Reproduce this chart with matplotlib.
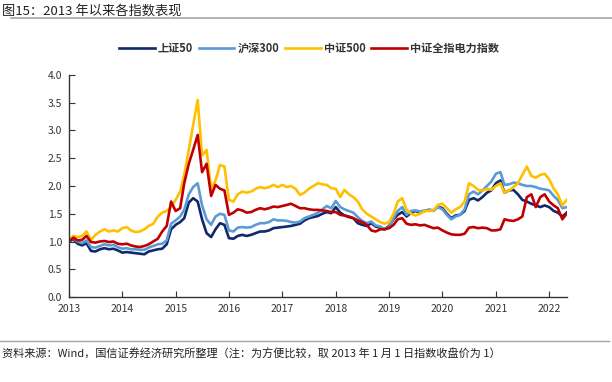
import matplotlib
matplotlib.use("Agg")
import matplotlib.pyplot as plt
import matplotlib.dates as mdates
import pandas as pd

plt.rcParams['font.family'] = ['Noto Sans CJK SC', 'DejaVu Sans']

# monthly samples, 2013-01 .. 2022-05 (start of month)
dates = pd.date_range("2013-01-01", "2022-05-01", freq="MS")

sz50 = [
    1.00, 1.04, 0.96, 0.93, 0.97, 0.83, 0.82, 0.86, 0.88, 0.86, 0.87, 0.84,
    0.80, 0.81, 0.80, 0.79, 0.78, 0.77, 0.82, 0.84, 0.86, 0.87, 0.95, 1.22,
    1.30, 1.35, 1.42, 1.70, 1.78, 1.72, 1.40, 1.15, 1.08, 1.22, 1.33, 1.30,
    1.06, 1.05, 1.10, 1.12, 1.10, 1.12, 1.15, 1.18, 1.18, 1.20, 1.24, 1.25,
    1.26, 1.27, 1.28, 1.30, 1.32, 1.38, 1.42, 1.44, 1.46, 1.50, 1.53, 1.51,
    1.62, 1.52, 1.47, 1.44, 1.42, 1.33, 1.30, 1.28, 1.33, 1.27, 1.25, 1.22,
    1.28, 1.40, 1.48, 1.53, 1.45, 1.52, 1.55, 1.52, 1.55, 1.57, 1.56, 1.63,
    1.60, 1.50, 1.42, 1.47, 1.48, 1.55, 1.75, 1.78, 1.74, 1.80, 1.88, 1.92,
    2.05, 2.10, 1.88, 1.92, 1.93, 1.85, 1.75, 1.72, 1.68, 1.65, 1.62, 1.65,
    1.62, 1.55, 1.52, 1.45, 1.52,
]
hs300 = [
    1.00, 1.06, 1.00, 0.97, 1.02, 0.90, 0.89, 0.92, 0.95, 0.93, 0.94, 0.90,
    0.87, 0.88, 0.86, 0.86, 0.85, 0.85, 0.89, 0.92, 0.95, 0.96, 1.02, 1.32,
    1.38, 1.45, 1.57, 1.85, 1.98, 2.05, 1.65, 1.40, 1.30, 1.45, 1.50, 1.48,
    1.20, 1.18, 1.25, 1.26, 1.25, 1.26, 1.30, 1.33, 1.33, 1.35, 1.40, 1.38,
    1.38, 1.37, 1.35, 1.34, 1.36, 1.42, 1.45, 1.48, 1.52, 1.58, 1.64, 1.60,
    1.73, 1.62, 1.58, 1.55, 1.52, 1.44, 1.37, 1.33, 1.36, 1.29, 1.27, 1.22,
    1.26, 1.42, 1.55, 1.62, 1.48, 1.55, 1.56, 1.54, 1.56, 1.57, 1.55, 1.62,
    1.58, 1.48, 1.40, 1.45, 1.48, 1.58, 1.85, 1.90, 1.85, 1.92, 2.00, 2.08,
    2.22, 2.25, 2.02, 2.03, 2.06, 2.05, 2.02, 2.00, 2.00, 1.98, 1.95, 1.94,
    1.92, 1.82, 1.75, 1.60, 1.62,
]
zz500 = [
    1.03, 1.10, 1.08, 1.10, 1.18, 1.03, 1.12, 1.18, 1.22, 1.18, 1.20, 1.18,
    1.24, 1.26, 1.20, 1.17, 1.18, 1.22, 1.28, 1.32, 1.45, 1.52, 1.55, 1.62,
    1.75, 1.90, 2.20, 2.65, 3.10, 3.55, 2.55, 2.65, 1.95, 2.10, 2.38, 2.35,
    1.75, 1.72, 1.85, 1.90, 1.88, 1.90, 1.95, 1.98, 1.96, 1.98, 2.02, 1.98,
    2.02, 1.98, 2.00, 1.95, 1.84, 1.88, 1.95, 2.00, 2.05, 2.03, 2.02, 1.96,
    1.95, 1.80, 1.93, 1.85, 1.80, 1.72, 1.58, 1.50, 1.45, 1.40, 1.35, 1.32,
    1.35, 1.50, 1.72, 1.78, 1.57, 1.50, 1.47, 1.50, 1.55, 1.55, 1.56, 1.66,
    1.68, 1.60, 1.52, 1.58, 1.62, 1.72, 2.05, 2.00, 1.93, 1.92, 1.95, 1.93,
    2.00, 2.05, 1.88, 1.92, 1.98, 2.05, 2.20, 2.35, 2.18, 2.15, 2.20, 2.22,
    2.12, 1.95, 1.85, 1.65, 1.75,
]
power = [
    1.00, 1.07, 1.02, 1.03, 1.10, 0.99, 0.98, 1.00, 1.01, 0.99, 1.00, 0.96,
    0.95, 0.96, 0.93, 0.91, 0.90, 0.92, 0.95, 1.00, 1.05, 1.18, 1.28, 1.72,
    1.55, 1.60, 2.05, 2.40, 2.65, 2.92, 2.25, 2.40, 1.82, 2.02, 1.95, 1.92,
    1.48, 1.52, 1.58, 1.56, 1.52, 1.53, 1.57, 1.60, 1.58, 1.60, 1.63, 1.62,
    1.64, 1.66, 1.68, 1.64, 1.60, 1.60, 1.58, 1.57, 1.57, 1.56, 1.55, 1.53,
    1.53, 1.48, 1.47, 1.45, 1.42, 1.38, 1.35, 1.30, 1.20, 1.18, 1.22, 1.22,
    1.24, 1.30, 1.40, 1.42, 1.32, 1.30, 1.31, 1.29, 1.30, 1.27, 1.24, 1.25,
    1.20, 1.16, 1.13, 1.12, 1.12, 1.14, 1.25, 1.26, 1.24, 1.25, 1.24, 1.20,
    1.20, 1.22, 1.40, 1.38, 1.37, 1.40, 1.45, 1.80, 1.85, 1.62, 1.80, 1.85,
    1.72, 1.65, 1.60, 1.40, 1.50,
]

series = [
    ("上证50", sz50, "#10296b"),
    ("沪深300", hs300, "#5b9bd5"),
    ("中证500", zz500, "#ffc000"),
    ("中证全指电力指数", power, "#c00000"),
]

fig = plt.figure(figsize=(6.12, 3.82), dpi=100)
ax = fig.add_axes([0.1127, 0.2225, 0.8138, 0.5812])

for name, vals, col in series:
    ax.plot(dates, vals, color=col, lw=1.9, label=name)

ax.set_ylim(0, 4)
ax.set_yticks([0, 0.5, 1, 1.5, 2, 2.5, 3, 3.5, 4])
ax.set_yticklabels(["%.1f" % v for v in ax.get_yticks()])
ax.set_xlim(pd.Timestamp("2013-01-01"), pd.Timestamp("2022-05-03"))
ax.xaxis.set_major_locator(mdates.YearLocator())
ax.xaxis.set_major_formatter(mdates.DateFormatter("%Y"))

for s in ["top", "right"]:
    ax.spines[s].set_visible(False)
for s in ["left", "bottom"]:
    ax.spines[s].set_color("#333333")
    ax.spines[s].set_linewidth(1.0)
ax.tick_params(direction="in", length=4, width=0.8, colors="#333333",
               labelsize=7.5, pad=5)

fig.legend(loc="center", bbox_to_anchor=(0.505, 0.874), ncol=4, frameon=False,
           handlelength=3.2, handletextpad=0.3, columnspacing=0.5,
           prop={"size": 8, "weight": "bold"}, labelcolor="#333333")

fig.text(0.003, 0.972, "图15：2013 年以来各指数表现", fontsize=9.5,
         color="#222222", va="center")
fig.add_artist(plt.Line2D([0.018, 1.0], [0.953, 0.953], color="#a6a6a6",
                          lw=1.2, transform=fig.transFigure))
fig.add_artist(plt.Line2D([0.0, 0.995], [0.108, 0.108], color="#a6a6a6",
                          lw=1.0, transform=fig.transFigure))
fig.text(0.003, 0.072,
         "资料来源：Wind，国信证券经济研究所整理（注：为方便比较，取 2013 年 1 月 1 日指数收盘价为 1）",
         fontsize=8, color="#222222", va="center")

fig.savefig("out.png", dpi=100)
